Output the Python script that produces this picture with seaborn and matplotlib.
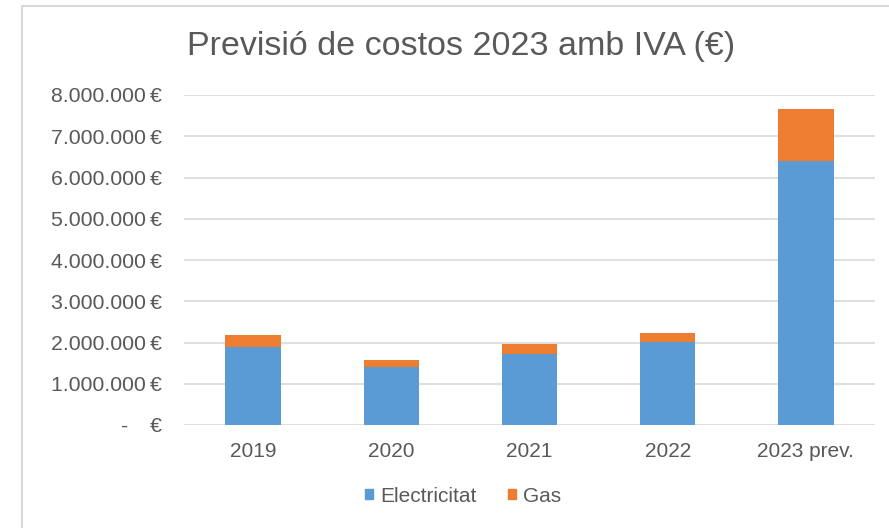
import matplotlib
matplotlib.use("Agg")
import matplotlib.pyplot as plt
import matplotlib.patches as mpatches
import seaborn as sns
import pandas as pd

categories = ["2019", "2020", "2021", "2022", "2023 prev."]
electricitat = [1880000, 1410000, 1720000, 2020000, 6390000]
gas = [290000, 160000, 250000, 200000, 1260000]
y_ticks = [0, 1000000, 2000000, 3000000, 4000000, 5000000, 6000000, 7000000, 8000000]
title = "Previsió de costos 2023 amb IVA (€)"
series_names = ["Electricitat", "Gas"]

BLUE = "#5B9BD5"
ORANGE = "#ED7D31"
TXT = "#595959"
GRID = "#D9D9D9"

sns.set_theme(style="white")
plt.rcParams["font.family"] = ["Liberation Sans", "DejaVu Sans"]

df = pd.DataFrame({"cat": categories, "elec": electricitat, "gas": gas})
df["total"] = df["elec"] + df["gas"]

fig = plt.figure(figsize=(8.89, 5.28), dpi=100)
ax = fig.add_axes([184/889, 1-425/528, (875-184)/889, (425-95)/528])

sns.barplot(data=df, x="cat", y="total", color=ORANGE, width=0.4, ax=ax,
            saturation=1, linewidth=0, zorder=3)
sns.barplot(data=df, x="cat", y="elec", color=BLUE, width=0.4, ax=ax,
            saturation=1, linewidth=0, zorder=4)

ax.set_ylim(0, 8000000)
ax.set_xlim(-0.5, len(categories) - 0.5)
ax.set_yticks(y_ticks)

def fmt(v):
    if v == 0:
        return "-   \u2009€"
    return f"{v:,}".replace(",", ".") + "\u2009€"

ax.set_yticklabels([fmt(v) for v in y_ticks], fontsize=15.3, color=TXT)
ax.set_xticks(range(len(categories)))
ax.set_xticklabels(categories, fontsize=15, color=TXT)
ax.tick_params(axis="both", length=0)
ax.tick_params(axis="y", pad=16)
ax.tick_params(axis="x", pad=12)
ax.set_xlabel("")
ax.set_ylabel("")
ax.grid(axis="y", color=GRID, linewidth=1.2, zorder=0)
ax.set_axisbelow(True)
for s in ["top", "right", "left", "bottom"]:
    ax.spines[s].set_visible(False)

fig.text(461/889, 1-47/528, title, ha="center", va="center", fontsize=24.5, color=TXT)

handles = [mpatches.Patch(color=BLUE, label=series_names[0]),
           mpatches.Patch(color=ORANGE, label=series_names[1])]
fig.legend(handles=handles, loc="center", bbox_to_anchor=(463/889, 1-496/528), ncol=2,
           frameon=False, fontsize=15, handlelength=0.4, handleheight=0.4,
           handletextpad=0.35, columnspacing=1.5, labelcolor=TXT)

border = mpatches.Rectangle((22/889, -0.1), 1.2, 1 - 6/528 + 0.1, transform=fig.transFigure,
                            fill=False, edgecolor=GRID, linewidth=1.5)
fig.patches.append(border)

fig.savefig("out.png", dpi=100)
